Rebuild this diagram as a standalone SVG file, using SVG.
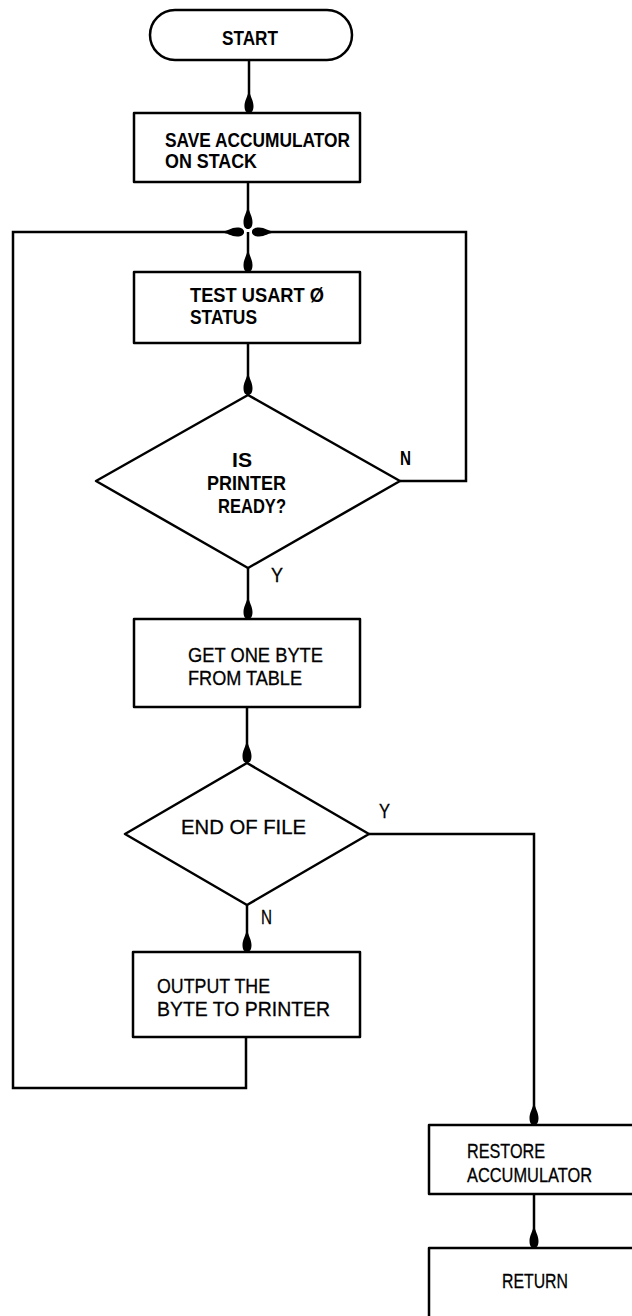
<svg xmlns="http://www.w3.org/2000/svg" width="632" height="1316" viewBox="0 0 632 1316">
<defs>
<marker id="tear" markerUnits="userSpaceOnUse" viewBox="-26 -6 28 12" markerWidth="28" markerHeight="12" refX="0" refY="0" orient="auto">
<path d="M-24,0 C-16,-1 -13,-4.5 -7,-4.5 C-2,-4.5 0,-2.5 0,0 C0,2.5 -2,4.5 -7,4.5 C-13,4.5 -16,1 -24,0 Z" fill="#000"/>
</marker>
</defs>
<style>
.shape{fill:#fff;stroke:#000;stroke-width:2.5;stroke-linejoin:round}
.conn{fill:none;stroke:#000;stroke-width:2.5;stroke-linejoin:miter}
.b{font-family:"Liberation Sans","DejaVu Sans",sans-serif;font-size:21px;font-weight:bold;fill:#000}
.t{font-family:"Liberation Sans","DejaVu Sans",sans-serif;font-size:21px;font-weight:normal;fill:#000;stroke:#000;stroke-width:0.3}
</style>
<rect width="632" height="1316" fill="#fff"/>
<g id="connectors">
<path class="conn" d="M249,60 V113" marker-end="url(#tear)"/>
<path class="conn" d="M248,182 V229" marker-end="url(#tear)"/>
<path class="conn" d="M248,232 V272" marker-end="url(#tear)"/>
<path class="conn" d="M246,1037 V1088 H13 V232 H244" marker-end="url(#tear)"/>
<path class="conn" d="M400,481 H466 V232 H252" marker-end="url(#tear)"/>
<path class="conn" d="M248,343 V395" marker-end="url(#tear)"/>
<path class="conn" d="M248,568 V619" marker-end="url(#tear)"/>
<path class="conn" d="M247,707 V763" marker-end="url(#tear)"/>
<path class="conn" d="M247,905 V952" marker-end="url(#tear)"/>
<path class="conn" d="M369,834 H534 V1125" marker-end="url(#tear)"/>
<path class="conn" d="M534,1194 V1248" marker-end="url(#tear)"/>
<text class="b" x="400" y="465" textLength="11" lengthAdjust="spacingAndGlyphs">N</text>
<text class="t" x="271" y="582" textLength="12" lengthAdjust="spacingAndGlyphs">Y</text>
<text class="t" x="379" y="818" textLength="11" lengthAdjust="spacingAndGlyphs">Y</text>
<text class="t" x="261" y="924" textLength="11" lengthAdjust="spacingAndGlyphs">N</text>
</g>
<g id="start">
<rect class="shape" x="150" y="10" width="202" height="50" rx="25" ry="25"/>
<text class="b" x="222" y="45" textLength="56" lengthAdjust="spacingAndGlyphs">START</text>
</g>
<g id="save">
<rect class="shape" x="134" y="113" width="226" height="69"/>
<text class="b" x="165" y="147" textLength="185" lengthAdjust="spacingAndGlyphs">SAVE ACCUMULATOR</text>
<text class="b" x="165" y="168" textLength="92" lengthAdjust="spacingAndGlyphs">ON STACK</text>
</g>
<g id="test">
<rect class="shape" x="134" y="272" width="226" height="71"/>
<text class="b" x="190" y="302" textLength="134" lengthAdjust="spacingAndGlyphs">TEST USART Ø</text>
<text class="b" x="190" y="324" textLength="67" lengthAdjust="spacingAndGlyphs">STATUS</text>
</g>
<g id="printer-ready">
<polygon class="shape" points="248,395 400,481 248,568 96,481"/>
<text class="b" x="232" y="467" textLength="20" lengthAdjust="spacingAndGlyphs">IS</text>
<text class="b" x="207" y="490" textLength="79" lengthAdjust="spacingAndGlyphs">PRINTER</text>
<text class="b" x="218" y="513" textLength="68" lengthAdjust="spacingAndGlyphs">READY?</text>
</g>
<g id="get-byte">
<rect class="shape" x="134" y="619" width="226" height="88"/>
<text class="t" x="188" y="662" textLength="135" lengthAdjust="spacingAndGlyphs">GET ONE BYTE</text>
<text class="t" x="188" y="685" textLength="114" lengthAdjust="spacingAndGlyphs">FROM TABLE</text>
</g>
<g id="end-of-file">
<polygon class="shape" points="247,763 369,834 247,905 125,834"/>
<text class="t" x="181" y="834" textLength="125" lengthAdjust="spacingAndGlyphs">END OF FILE</text>
</g>
<g id="output">
<rect class="shape" x="133" y="952" width="227" height="85"/>
<text class="t" x="157" y="993" textLength="113" lengthAdjust="spacingAndGlyphs">OUTPUT THE</text>
<text class="t" x="157" y="1016" textLength="173" lengthAdjust="spacingAndGlyphs">BYTE TO PRINTER</text>
</g>
<g id="restore">
<rect class="shape" x="429" y="1125" width="220" height="69"/>
<text class="t" x="467" y="1158" textLength="78" lengthAdjust="spacingAndGlyphs">RESTORE</text>
<text class="t" x="467" y="1182" textLength="125" lengthAdjust="spacingAndGlyphs">ACCUMULATOR</text>
</g>
<g id="return">
<rect class="shape" x="429" y="1248" width="220" height="90"/>
<text class="t" x="502" y="1288" textLength="66" lengthAdjust="spacingAndGlyphs">RETURN</text>
</g>
</svg>
